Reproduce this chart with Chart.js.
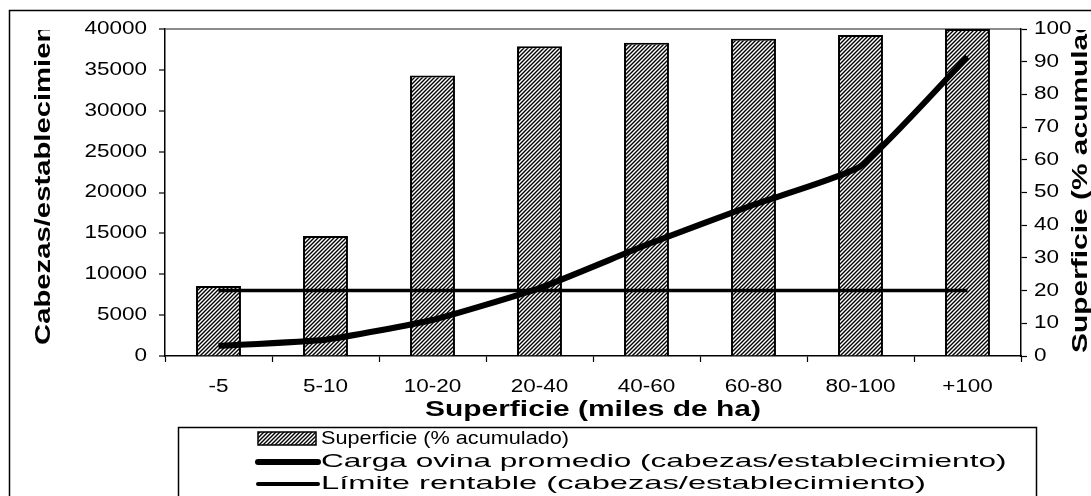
<!DOCTYPE html>
<html>
<head>
<meta charset="utf-8">
<script src="https://cdn.jsdelivr.net/npm/chart.js@4.4.1/dist/chart.umd.min.js"></script>
<style>
  html, body { margin: 0; padding: 0; background: #fff; }
  #wrap { width: 1091px; height: 496px; position: relative; }
</style>
</head>
<body>
<div id="wrap"><canvas id="c" width="1091" height="496"></canvas></div>
<script>
// ---- Data ----
const categories = ['-5', '5-10', '10-20', '20-40', '40-60', '60-80', '80-100', '+100'];
const superficiePct = [21.4, 36.7, 85.8, 94.7, 95.8, 97.0, 98.2, 100];
const cargaOvina = [1250, 2000, 4400, 8300, 13600, 18500, 23200, 36600];
const limiteRentable = [8000, 8000, 8000, 8000, 8000, 8000, 8000, 8000];
const leftTicks = [0, 5000, 10000, 15000, 20000, 25000, 30000, 35000, 40000];
const rightTicks = [0, 10, 20, 30, 40, 50, 60, 70, 80, 90, 100];
const xTitle = 'Superficie (miles de ha)';
const leftTitle = 'Cabezas/establecimiento';
const rightTitle = 'Superficie (% acumulado)';
const legendLabels = [
  'Superficie (% acumulado)',
  'Carga ovina promedio (cabezas/establecimiento)',
  'Límite rentable (cabezas/establecimiento)'
];

// ---- Hatch pattern ----
function makeHatch() {
  const t = document.createElement('canvas');
  t.width = 4; t.height = 4;
  const g = t.getContext('2d');
  g.fillStyle = '#fff'; g.fillRect(0, 0, 4, 4);
  g.strokeStyle = '#000'; g.lineWidth = 1.4;
  g.beginPath();
  g.moveTo(-1, 5); g.lineTo(5, -1);
  g.moveTo(-1, 1); g.lineTo(1, -1);
  g.moveTo(3, 5); g.lineTo(5, 3);
  g.stroke();
  return document.getElementById('c').getContext('2d').createPattern(t, 'repeat');
}
const hatch = makeHatch();

const FONT = '"Liberation Sans", Arial, sans-serif';

function stretchText(ctx, text, x, y, align, sx, font) {
  ctx.save();
  ctx.font = font;
  ctx.fillStyle = '#000';
  ctx.textAlign = align;
  ctx.textBaseline = 'middle';
  ctx.translate(x, y);
  ctx.scale(sx, 1);
  ctx.fillText(text, 0, 0);
  ctx.restore();
}

function rotTitle(ctx, text, x, yStart, sx, font) {
  ctx.save();
  ctx.beginPath();
  ctx.rect(0, 30, 1091, 466);
  ctx.clip();
  ctx.font = font;
  ctx.fillStyle = '#000';
  ctx.textAlign = 'left';
  ctx.textBaseline = 'middle';
  ctx.translate(x, yStart);
  ctx.rotate(-Math.PI / 2);
  ctx.scale(sx, 1);
  ctx.fillText(text, 0, 0);
  ctx.restore();
}

const textPlugin = {
  id: 'textPlugin',
  beforeDraw(chart) {
    const ctx = chart.ctx;
    ctx.save();
    ctx.fillStyle = '#fff';
    ctx.fillRect(0, 0, chart.width, chart.height);
    ctx.restore();
  },
  afterDraw(chart) {
    const ctx = chart.ctx;
    const sy = chart.scales.y, sy1 = chart.scales.y1, sx = chart.scales.x;
    const tickFont = '18px ' + FONT;
    leftTicks.forEach(v => stretchText(ctx, String(v), 147, sy.getPixelForValue(v), 'right', 1.25, tickFont));
    rightTicks.forEach(v => stretchText(ctx, String(v), 1034, sy1.getPixelForValue(v), 'left', 1.25, tickFont));
    categories.forEach((c, i) => stretchText(ctx, c, sx.getPixelForValue(i), 387, 'center', 1.25, tickFont));
    const titleFont = 'bold 22px ' + FONT;
    stretchText(ctx, xTitle, (chart.chartArea.left + chart.chartArea.right) / 2, 410, 'center', 1.36, titleFont);
    rotTitle(ctx, leftTitle, 44, 345, 1.33, titleFont);
    rotTitle(ctx, rightTitle, 1081, 353, 1.36, titleFont);

    // outer border
    ctx.save();
    ctx.strokeStyle = '#000';
    ctx.lineWidth = 1.5;
    ctx.strokeRect(9.5, 10.5, 1300, 700);
    // legend box
    ctx.lineWidth = 1.5;
    ctx.strokeRect(178.5, 427.5, 858, 200);
    // legend items
    ctx.fillStyle = hatch;
    ctx.fillRect(258, 432, 58, 13);
    ctx.lineWidth = 1.5;
    ctx.strokeRect(258, 432, 58, 13);
    ctx.lineCap = 'round';
    ctx.beginPath(); ctx.lineWidth = 6; ctx.moveTo(258, 462); ctx.lineTo(318, 462); ctx.stroke();
    ctx.beginPath(); ctx.lineWidth = 4; ctx.moveTo(258, 484); ctx.lineTo(318, 484); ctx.stroke();
    ctx.restore();
    const legFont = '19px ' + FONT;
    stretchText(ctx, legendLabels[0], 321, 439, 'left', 1.14, legFont);
    stretchText(ctx, legendLabels[1], 321, 462, 'left', 1.66, legFont);
    stretchText(ctx, legendLabels[2], 321, 484, 'left', 1.72, legFont);
  }
};

new Chart(document.getElementById('c'), {
  type: 'bar',
  data: {
    labels: categories,
    datasets: [
      {
        type: 'line', label: legendLabels[1], data: cargaOvina, yAxisID: 'y',
        borderColor: '#000', borderWidth: 6, tension: 0.15, pointRadius: 0, fill: false, order: 0
      },
      {
        type: 'line', label: legendLabels[2], data: limiteRentable, yAxisID: 'y',
        borderColor: '#000', borderWidth: 3.5, tension: 0, pointRadius: 0, fill: false, order: 1
      },
      {
        type: 'bar', label: legendLabels[0], data: superficiePct, yAxisID: 'y1',
        backgroundColor: hatch, borderColor: '#000', borderWidth: 2,
        barPercentage: 0.42, categoryPercentage: 1, order: 2
      }
    ]
  },
  options: {
    responsive: false,
    animation: false,
    layout: { padding: { top: 29, left: 0, right: 0, bottom: 0 } },
    plugins: { legend: { display: false }, tooltip: { enabled: false } },
    scales: {
      x: {
        offset: true,
        grid: { offset: true, drawOnChartArea: false, color: '#000', tickColor: '#000', tickLength: 6, tickWidth: 1.2 },
        border: { color: '#000', width: 1.5 },
        ticks: { display: false },
        afterFit(s) { s.height = 140; }
      },
      y: {
        position: 'left', min: leftTicks[0], max: leftTicks[leftTicks.length - 1],
        ticks: { display: false, stepSize: leftTicks[1] - leftTicks[0] },
        grid: {
          color: c => (c.tick && c.tick.value === leftTicks[leftTicks.length - 1]) ? '#8c8c8c' : 'rgba(0,0,0,0)',
          lineWidth: 2, tickColor: '#000', tickLength: 6, tickWidth: 1.2
        },
        border: { color: '#000', width: 1.5 },
        afterFit(s) { s.width = 165; }
      },
      y1: {
        position: 'right', min: rightTicks[0], max: rightTicks[rightTicks.length - 1],
        ticks: { display: false, stepSize: rightTicks[1] - rightTicks[0] },
        grid: { drawOnChartArea: false, tickColor: '#000', tickLength: 6, tickWidth: 1.2 },
        border: { color: '#000', width: 1.5 },
        afterFit(s) { s.width = 70; }
      }
    }
  },
  plugins: [textPlugin]
});
</script>
</body>
</html>
